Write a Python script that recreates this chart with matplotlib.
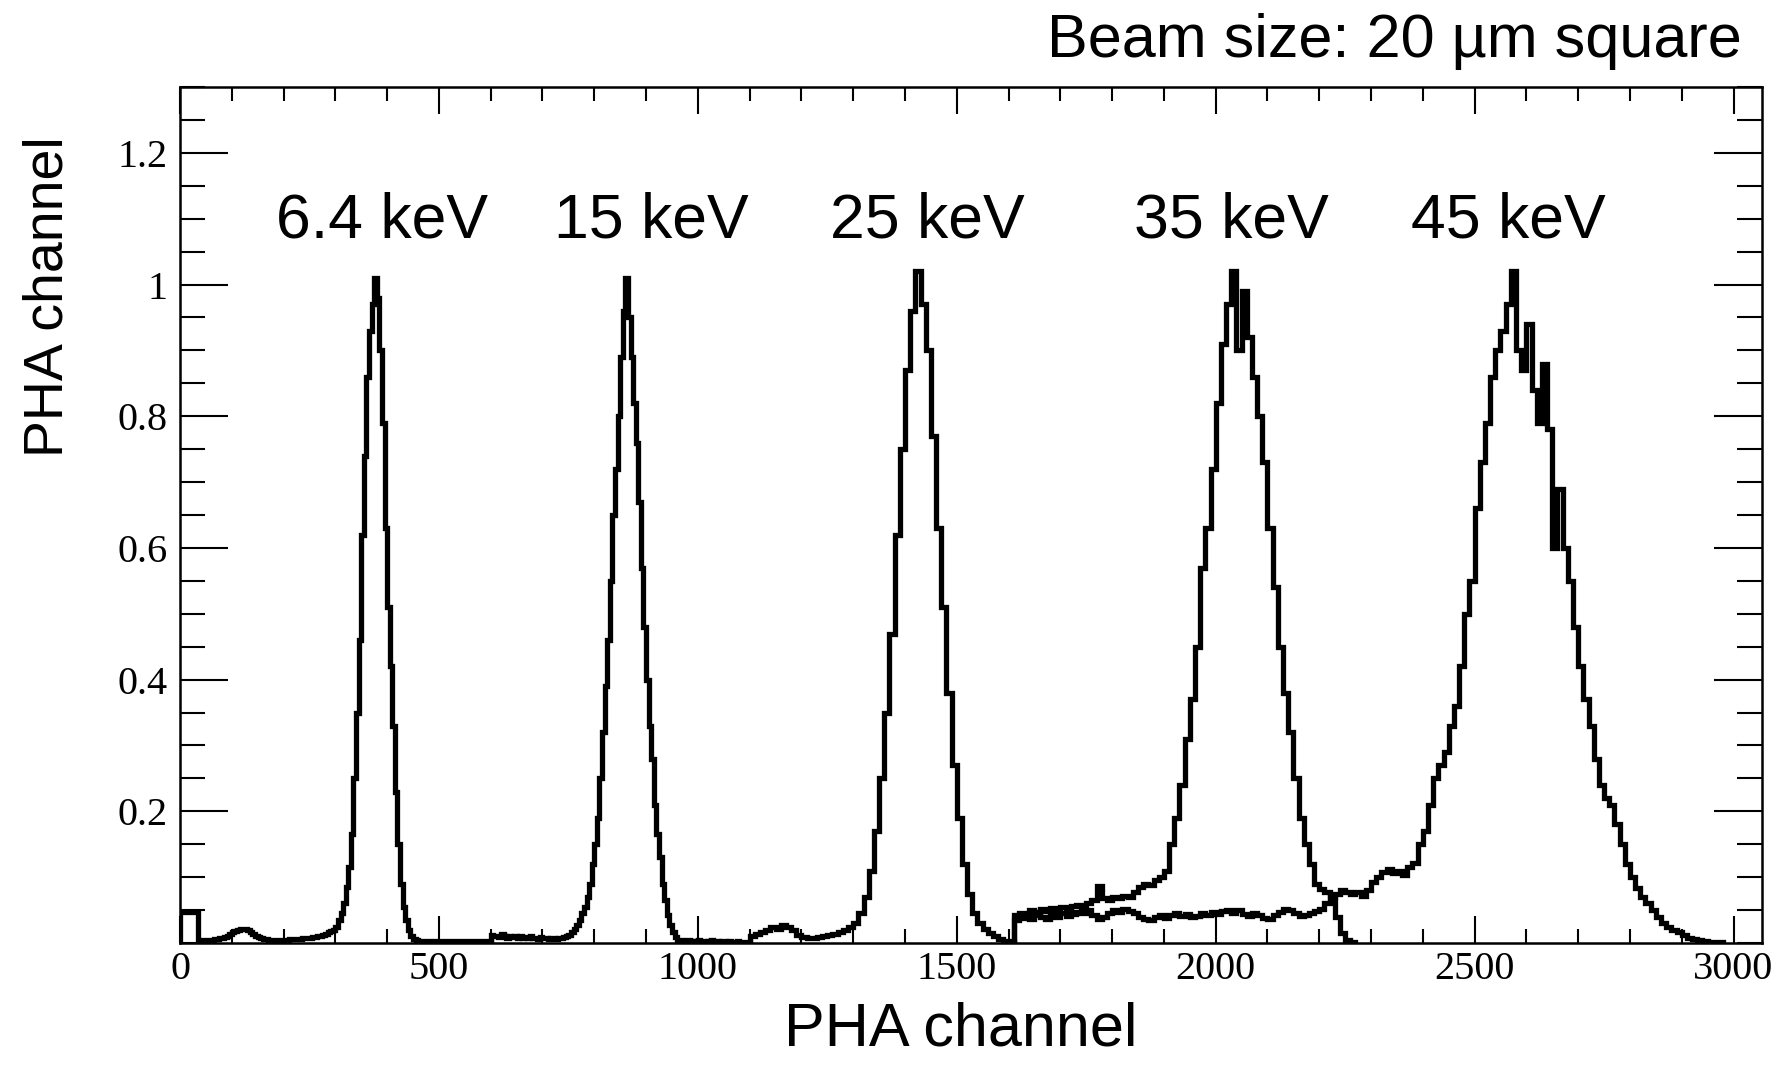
import matplotlib
matplotlib.use("Agg")
import matplotlib.pyplot as plt
from matplotlib.ticker import MultipleLocator, FixedLocator
import numpy as np

# ---- data (normalised PHA spectra) ----
# each spectrum: first channel, bin width, bin contents
start_64, width_64 = 0, 5
counts_64 = (
    [0.047] * 7
    + [0.005, 0.004, 0.004, 0.005, 0.005, 0.005, 0.006, 0.006, 0.007, 0.008, 0.009, 0.011, 0.013]
    + [0.016, 0.018, 0.020, 0.021, 0.022, 0.021, 0.020, 0.017, 0.014, 0.011, 0.009, 0.007]
    + [0.006, 0.006, 0.005, 0.005, 0.005, 0.005, 0.005, 0.005, 0.005, 0.005,
       0.006, 0.006, 0.006, 0.006, 0.006, 0.007, 0.007, 0.007]
    + [0.008, 0.009, 0.009, 0.010, 0.011, 0.012, 0.014, 0.016, 0.018]
    + [0.020, 0.025, 0.035, 0.045, 0.060, 0.085, 0.115, 0.165, 0.25, 0.35,
       0.46, 0.62, 0.74, 0.86, 0.93, 0.97, 1.01]
    + [0.98, 0.90, 0.79, 0.63, 0.51, 0.42, 0.33, 0.23, 0.15, 0.09,
       0.055, 0.035, 0.020, 0.010, 0.006, 0.004]
    + [0.003] * 28
)

start_15, width_15 = 600, 5
counts_15 = (
    [0.012, 0.010, 0.011, 0.009, 0.013, 0.010, 0.008, 0.011, 0.009, 0.010,
     0.008, 0.010, 0.007, 0.009, 0.008, 0.010, 0.007, 0.008, 0.006, 0.009,
     0.007, 0.008, 0.006, 0.007, 0.008, 0.006, 0.007, 0.008, 0.009, 0.010, 0.012]
    + [0.017, 0.022, 0.028, 0.035, 0.045, 0.055, 0.07, 0.09, 0.12, 0.15,
       0.19, 0.25, 0.32, 0.39, 0.46, 0.55, 0.65, 0.72, 0.80, 0.89, 0.96]
    + [1.01]
    + [0.95, 0.89, 0.82, 0.76, 0.67, 0.57, 0.48, 0.40, 0.33, 0.28,
       0.21, 0.165, 0.13, 0.09, 0.065, 0.042, 0.028, 0.016, 0.009, 0.005]
    + [0.004, 0.003, 0.003, 0.004, 0.003, 0.002, 0.003, 0.004, 0.003, 0.003,
       0.002, 0.003, 0.004, 0.003, 0.003, 0.002, 0.003, 0.003, 0.002, 0.003,
       0.002, 0.002, 0.003, 0.002, 0.002, 0.002, 0.002]
)

start_25, width_25 = 1100, 10
counts_25 = [
    0.010, 0.014, 0.016, 0.020, 0.025, 0.022, 0.027, 0.024, 0.020, 0.012,
    0.009, 0.007, 0.008, 0.009, 0.011, 0.012, 0.014, 0.016, 0.019, 0.024,
    0.030, 0.045, 0.07, 0.11, 0.17, 0.25, 0.35, 0.47, 0.62, 0.75, 0.87, 0.96, 1.02,
    0.97, 0.90, 0.77, 0.63, 0.51, 0.38, 0.27, 0.19, 0.12, 0.075,
    0.045, 0.030, 0.022, 0.015, 0.010, 0.006, 0.003, 0.002,
]

start_35, width_35 = 1610, 10
counts_35 = [
    0.042, 0.046, 0.044, 0.050, 0.047, 0.052, 0.049, 0.053, 0.050, 0.055,
    0.052, 0.056, 0.058, 0.054, 0.060, 0.066, 0.086, 0.068, 0.065, 0.070,
    0.068, 0.072, 0.070, 0.078, 0.085, 0.090, 0.088, 0.096, 0.100, 0.11,
    0.15, 0.19, 0.24, 0.31, 0.37, 0.45, 0.57, 0.63, 0.72, 0.82,
    0.91, 0.97, 1.02, 0.90, 0.99, 0.92, 0.86, 0.80, 0.73, 0.63,
    0.54, 0.45, 0.38, 0.32, 0.25, 0.19, 0.15, 0.12, 0.09, 0.082,
    0.077, 0.065, 0.040, 0.015, 0.005, 0.002,
]

start_45, width_45 = 1610, 10
counts_45 = [
    0.035, 0.040, 0.038, 0.036, 0.042, 0.040, 0.037, 0.043, 0.040, 0.045,
    0.041, 0.044, 0.047, 0.045, 0.050, 0.042, 0.036, 0.040, 0.045, 0.050,
    0.047, 0.052, 0.048, 0.045, 0.040, 0.036, 0.035, 0.040, 0.043, 0.038,
    0.042, 0.046, 0.041, 0.044, 0.039, 0.041, 0.045, 0.043, 0.047, 0.044,
    0.048, 0.050, 0.046, 0.050, 0.044, 0.041, 0.046, 0.043, 0.038, 0.036,
    0.042, 0.047, 0.052, 0.050, 0.045, 0.041, 0.043, 0.046, 0.048, 0.052,
    0.060, 0.070, 0.075, 0.080, 0.077, 0.074, 0.078, 0.072, 0.080, 0.092,
    0.100, 0.108, 0.112, 0.106, 0.110, 0.104, 0.115, 0.122, 0.150, 0.17,
    0.21, 0.25, 0.27, 0.29, 0.33, 0.36, 0.42, 0.50, 0.55, 0.66,
    0.73, 0.79, 0.86, 0.90, 0.93, 0.97, 1.02, 0.90, 0.87, 0.94,
    0.84, 0.79, 0.88, 0.78, 0.60, 0.69, 0.60, 0.55, 0.48, 0.42,
    0.37, 0.33, 0.28, 0.24, 0.22, 0.21, 0.18, 0.15, 0.12, 0.10,
    0.083, 0.070, 0.060, 0.050, 0.040, 0.030, 0.025, 0.020, 0.017, 0.012,
    0.008, 0.006, 0.004, 0.003, 0.002, 0.002, 0.001,
]

peak_labels = ["6.4 keV", "15 keV", "25 keV", "35 keV", "45 keV"]
label_x = [391, 910, 1443, 2030, 2566]
label_y = 1.072

x_ticks = [0, 500, 1000, 1500, 2000, 2500, 3000]
y_ticks = [0.2, 0.4, 0.6, 0.8, 1.0, 1.2]
y_tick_labels = ["0.2", "0.4", "0.6", "0.8", "1", "1.2"]

SANS = "Liberation Sans"
SERIF = "Liberation Serif"

fig = plt.figure(figsize=(17.79, 10.78), dpi=100)
fig.patch.set_facecolor("white")
ax = fig.add_axes([180 / 1779, 1 - 943 / 1078, (1762 - 180) / 1779, (943 - 87) / 1078])

spectra = [
    (start_64, width_64, counts_64),
    (start_15, width_15, counts_15),
    (start_25, width_25, counts_25),
    (start_35, width_35, counts_35),
    (start_45, width_45, counts_45),
]
for start, width, counts in spectra:
    edges = start + width * np.arange(len(counts) + 1)
    ax.stairs(counts, edges, color="black", lw=3.8, baseline=0)

for txt, xc in zip(peak_labels, label_x):
    ax.text(xc, label_y, txt, ha="center", va="baseline",
            fontsize=45, family=SANS)

ax.set_xlim(0, 3055)
ax.set_ylim(0, 1.3)

ax.xaxis.set_major_locator(FixedLocator(x_ticks))
ax.xaxis.set_minor_locator(MultipleLocator(100))
ax.set_xticklabels([str(t) for t in x_ticks])
ax.yaxis.set_major_locator(FixedLocator(y_ticks))
ax.yaxis.set_minor_locator(MultipleLocator(0.05))
ax.set_yticklabels(y_tick_labels)

ax.tick_params(which="both", direction="in", top=True, right=True,
               width=1.5, colors="black")
ax.tick_params(axis="x", which="major", length=19.5, pad=6)
ax.tick_params(axis="x", which="minor", length=10)
ax.tick_params(axis="y", which="major", length=34.5, pad=9)
ax.tick_params(axis="y", which="minor", length=18)
for lab in ax.get_xticklabels() + ax.get_yticklabels():
    lab.set_family(SERIF)
    lab.set_fontsize(29)

for sp in ax.spines.values():
    sp.set_linewidth(1.8)

fig.text(961 / 1779, 1 - 1046 / 1078, "PHA channel", ha="center",
         va="baseline", fontsize=44, family=SANS)
fig.text(49 / 1779, 1 - 297 / 1078, "PHA channel", ha="center",
         va="center", rotation=90, fontsize=40, family=SANS)
fig.text(1742 / 1779, 1 - 57 / 1078, "Beam size: 20 µm square", ha="right",
         va="baseline", fontsize=44, family=SANS)

fig.savefig("out.png", dpi=100, facecolor="white")
